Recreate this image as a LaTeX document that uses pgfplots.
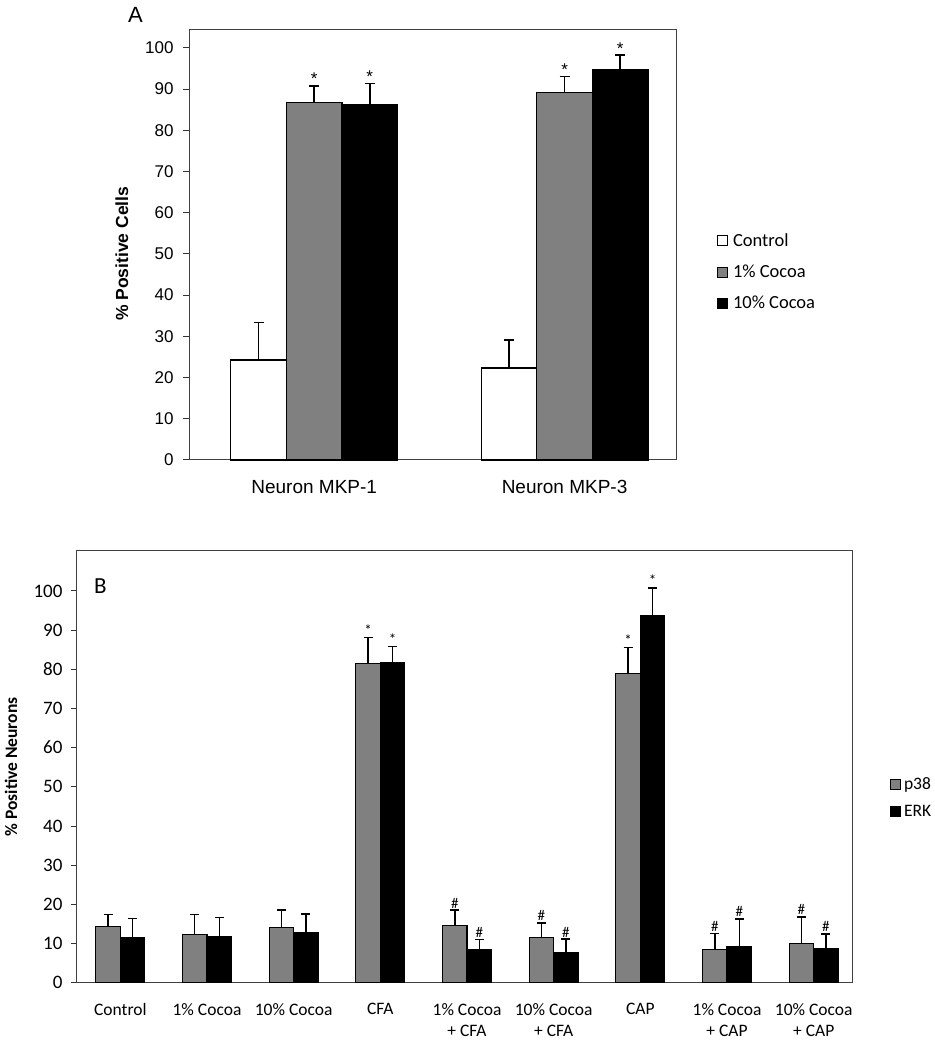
\documentclass[border=0pt]{standalone}
\usepackage{pgfplots}
\pgfplotsset{compat=1.18}
\usepackage{fontspec}
\setmainfont{Carlito}
\newfontfamily\arial{Liberation Sans}
\definecolor{bargray}{RGB}{128,128,128}
\begin{document}
\begin{tikzpicture}
\path[use as bounding box] (0,0) rectangle (934pt,1043pt);
% ---------------- Panel A ----------------
\begin{axis}[
  at={(189pt,583pt)}, anchor=south west, scale only axis,
  width=487pt, height=430.3pt,
  xmin=-0.5, xmax=1.445, ymin=0, ymax=104.4,
  xtick={0,1}, xticklabels={Neuron MKP-1, Neuron MKP-3},
  ytick={0,10,...,100},
  /pgf/number format/assume math mode=true,
  yticklabel style={font=\arial\fontsize{17}{20}\selectfont, xshift=-6pt},
  xticklabel style={font=\arial\fontsize{19}{22}\selectfont, yshift=-11pt},
  x tick style={draw=none},
  y tick style={black!80, line width=1pt},
  tick align=outside, major tick length=6pt, ytick pos=left,
  axis line style={black!75, line width=1pt},
  ylabel={\% Positive Cells},
  ylabel style={font=\arial\bfseries\fontsize{17.5}{20}\selectfont, at={(axis description cs:-0.1376,0.479)}, anchor=center},
  ybar, bar width=0.222,
  legend style={at={(axis description cs:1.084,0.437)}, anchor=west, draw=none, fill=none,
     font=\fontsize{18.5}{21}\selectfont, row sep=13pt, inner sep=0pt,
     nodes={inner sep=2pt},
     /tikz/every odd column/.append style={column sep=3pt}},
  legend cell align=left,
  legend image code/.code={\draw[#1,draw=black,line width=0.9pt] (0pt,-5pt) rectangle (10pt,5pt);},
  clip=false
]
\addplot[fill=white, draw=black, line width=1.2pt, bar shift=-0.222,
  error bars/.cd, y dir=plus, y explicit,
  error bar style={line width=1.5pt, black},
  error mark options={rotate=90, mark size=5pt, line width=1.5pt, black}]
  coordinates {(0,24.25) +- (0,9.05) (1,22.3) +- (0,6.8)};
\addplot[fill=bargray, draw=black, line width=1.2pt, bar shift=0,
  error bars/.cd, y dir=plus, y explicit,
  error bar style={line width=1.5pt, black},
  error mark options={rotate=90, mark size=5pt, line width=1.5pt, black}]
  coordinates {(0,86.8) +- (0,3.9) (1,89.1) +- (0,3.9)};
\addplot[fill=black, draw=black, line width=1.2pt, bar shift=0.222,
  error bars/.cd, y dir=plus, y explicit,
  error bar style={line width=1.5pt, black},
  error mark options={rotate=90, mark size=5pt, line width=1.5pt, black}]
  coordinates {(0,86.3) +- (0,5.0) (1,94.8) +- (0,3.4)};
\legend{Control, 1\% Cocoa, 10\% Cocoa}
\tikzset{annA/.style={above, inner sep=1pt, font=\arial\fontsize{17}{19}\selectfont}}
\node[annA] at (axis cs:0,90.7) {*};
\node[annA] at (axis cs:0.222,91.3) {*};
\node[annA] at (axis cs:1,93.0) {*};
\node[annA] at (axis cs:1.222,98.2) {*};
\node[font=\arial\fontsize{22}{25}\selectfont] at (axis description cs:-0.11,1.034) {A};
\end{axis}
% ---------------- Panel B ----------------
\begin{axis}[
  at={(77pt,60.3pt)}, anchor=south west, scale only axis,
  width=775.7pt, height=431.7pt,
  xmin=-0.5, xmax=8.45, ymin=0, ymax=110.2,
  xtick={0,...,8},
  xticklabels={Control, 1\% Cocoa, 10\% Cocoa, CFA, {1\% Cocoa\\+ CFA}, {10\% Cocoa\\+ CFA}, CAP, {1\% Cocoa\\+ CAP}, {10\% Cocoa\\+ CAP}},
  ytick={0,10,...,100},
  /pgf/number format/assume math mode=true,
  yticklabel style={font=\fontsize{19}{22}\selectfont, xshift=-5pt},
  xticklabel style={font=\fontsize{17.5}{21.5}\selectfont, align=center, yshift=-11pt},
  x tick style={draw=none},
  y tick style={black!80, line width=1pt},
  tick align=outside, major tick length=6pt, ytick pos=left,
  axis line style={black!75, line width=1pt},
  ylabel={\% Positive Neurons},
  ylabel style={font=\bfseries\fontsize{17.5}{20}\selectfont, at={(axis description cs:-0.085,0.5)}, anchor=center},
  ybar, bar width=0.283,
  legend style={at={(axis description cs:1.048,0.429)}, anchor=west, draw=none, fill=none,
     font=\fontsize{17.5}{20}\selectfont, row sep=12pt, inner sep=0pt,
     nodes={inner sep=1pt},
     /tikz/every odd column/.append style={column sep=2pt}},
  legend cell align=left,
  legend image code/.code={\draw[#1,draw=black,line width=0.9pt] (0pt,-5pt) rectangle (10pt,5pt);},
  clip=false
]
\addplot[fill=bargray, draw=black, line width=1.2pt, bar shift=-0.1415,
  error bars/.cd, y dir=plus, y explicit,
  error bar style={line width=1.5pt, black},
  error mark options={rotate=90, mark size=4.5pt, line width=1.5pt, black}]
  coordinates {(0,14.3) +- (0,3.1) (1,12.3) +- (0,5.1) (2,14.0) +- (0,4.6)
               (3,81.4) +- (0,6.7) (4,14.5) +- (0,4.0) (5,11.6) +- (0,3.7)
               (6,78.9) +- (0,6.7) (7,8.4) +- (0,4.2) (8,10.1) +- (0,6.7)};
\addplot[fill=black, draw=black, line width=1.2pt, bar shift=0.1415,
  error bars/.cd, y dir=plus, y explicit,
  error bar style={line width=1.5pt, black},
  error mark options={rotate=90, mark size=4.5pt, line width=1.5pt, black}]
  coordinates {(0,11.6) +- (0,4.8) (1,11.7) +- (0,4.9) (2,12.8) +- (0,4.8)
               (3,81.7) +- (0,4.1) (4,8.4) +- (0,2.6) (5,7.8) +- (0,3.3)
               (6,93.8) +- (0,7.0) (7,9.1) +- (0,7.2) (8,8.6) +- (0,3.8)};
\legend{p38, ERK}
\tikzset{ann/.style={above, inner sep=2pt, font=\fontsize{15}{17}\selectfont}}
\node[ann] at (axis cs:2.8585,88.1) {*};
\node[ann] at (axis cs:3.1415,85.8) {*};
\node[ann] at (axis cs:5.8585,85.6) {*};
\node[ann] at (axis cs:6.1415,100.8) {*};
\node[ann] at (axis cs:3.8585,18.5) {\#};
\node[ann] at (axis cs:4.1415,11.0) {\#};
\node[ann] at (axis cs:4.8585,15.3) {\#};
\node[ann] at (axis cs:5.1415,11.1) {\#};
\node[ann] at (axis cs:6.8585,12.6) {\#};
\node[ann] at (axis cs:7.1415,16.3) {\#};
\node[ann] at (axis cs:7.8585,16.8) {\#};
\node[ann] at (axis cs:8.1415,12.4) {\#};
\node[font=\fontsize{23}{26}\selectfont] at (axis description cs:0.03,0.919) {B};
\end{axis}
\end{tikzpicture}
\end{document}
